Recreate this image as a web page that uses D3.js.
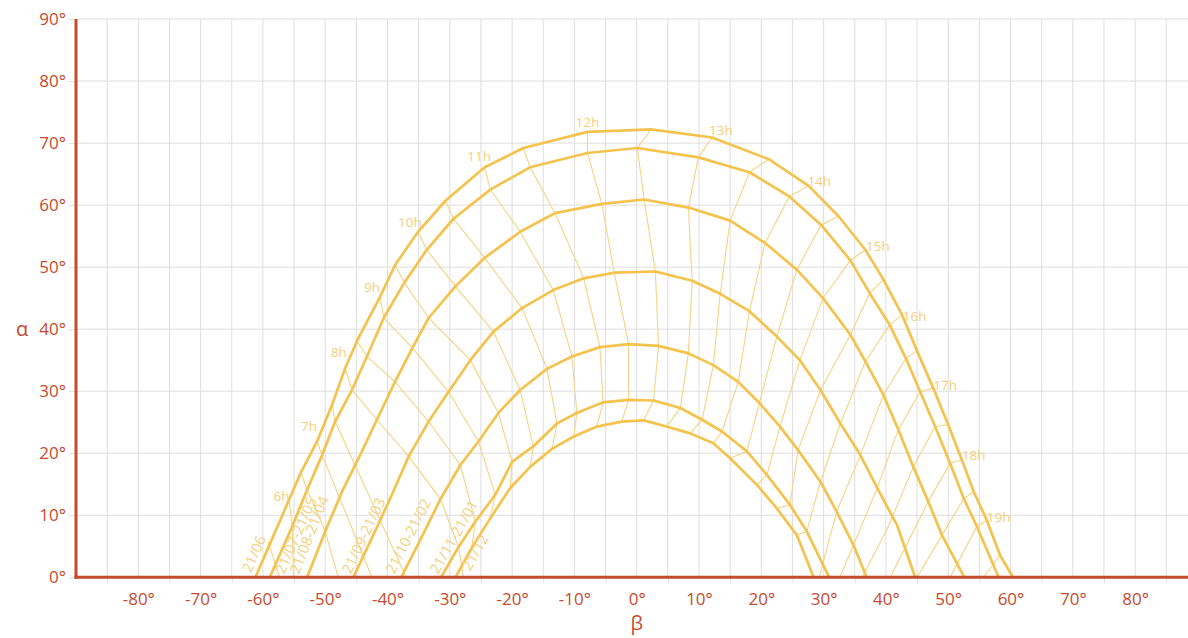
<!DOCTYPE html>
<html>
<head>
<meta charset="utf-8">
<script src="https://cdn.jsdelivr.net/npm/d3@7"></script>
<style>
  body { margin: 0; background: #fff; }
  svg { display: block; }
  text { font-family: "Open Sans", sans-serif; }
</style>
</head>
<body>
<svg width="1188" height="638"></svg>
<script>
// Day curves: [beta, alpha] in degrees
var c0621 = [[-61.2,0],[-55.8,12.5],[-53.9,16.9],[-51.3,21.9],[-48.9,27.8],[-46.8,33.7],[-44.9,38.1],[-41.2,45.2],[-38.8,50.3],[-35.1,55.7],[-30.7,60.7],[-24.4,66.1],[-18.2,69.2],[-7.9,71.8],[2.3,72.2],[12.1,70.9],[21.2,67.4],[27.6,63.1],[32.4,58.2],[36.7,52.8],[39.6,48.0],[42.6,42.3],[45.0,36.5],[47.6,30.5],[50.0,24.6],[52.2,18.9],[54.1,13.8],[56.2,9.2],[58.3,3.6],[60.4,0]];
var c0521 = [[-58.9,0],[-55.3,8.2],[-52.9,14.1],[-50.5,19.7],[-48.4,25.1],[-45.7,30.2],[-43.3,35.6],[-40.6,41.8],[-37.3,47.5],[-33.7,52.8],[-29.4,57.8],[-23.5,62.5],[-17.1,66.1],[-7.9,68.4],[0.1,69.2],[9.9,67.7],[18.1,65.3],[24.5,61.4],[29.6,56.8],[34.3,51.1],[37.4,45.8],[40.6,40.7],[43.2,35.3],[45.5,29.9],[47.9,24.3],[50.3,18.4],[52.5,12.7],[54.6,8.2],[58.1,0]];
var c0421 = [[-52.9,0],[-50.0,7.4],[-47.3,13.8],[-44.4,19.7],[-41.7,25.4],[-38.8,31.5],[-36.0,37.0],[-33.4,41.8],[-29.1,46.9],[-24.4,51.5],[-18.7,55.7],[-13.1,58.7],[-5.6,60.2],[1.2,60.9],[8.3,59.6],[15.0,57.5],[20.6,53.9],[25.7,49.6],[29.9,45.0],[34.3,39.1],[36.7,34.8],[39.6,29.4],[42.0,23.8],[44.4,17.8],[46.8,12.2],[49.0,6.8],[52.6,0]];
var c0321 = [[-45.5,0],[-42.0,7.4],[-39.3,13.3],[-36.6,19.5],[-33.4,25.1],[-30.2,29.9],[-26.7,35.0],[-23.0,39.6],[-18.4,43.4],[-13.4,46.3],[-8.5,48.2],[-3.6,49.1],[3.0,49.3],[8.9,47.8],[13.4,45.7],[18.1,42.9],[22.5,38.8],[26.2,35.0],[29.5,30.2],[32.7,24.8],[35.9,19.7],[38.6,14.4],[41.8,8.4],[44.7,0]];
var c0221 = [[-37.8,0],[-34.5,6.5],[-31.5,12.6],[-28.3,18.1],[-25.4,21.9],[-22.2,26.5],[-18.7,30.2],[-14.4,33.6],[-10.4,35.6],[-5.9,37.1],[-1.3,37.6],[3.5,37.3],[8.3,36.1],[12.3,34.2],[16.3,31.5],[19.7,28.1],[23.0,24.3],[25.9,20.5],[29.5,15.4],[32.1,10.6],[34.8,5.2],[36.9,0]];
var c0121 = [[-31.4,0],[-28.6,4.9],[-25.9,9.0],[-22.7,13.3],[-20.0,18.6],[-16.6,21.1],[-12.8,24.8],[-9.6,26.5],[-5.4,28.2],[-1.3,28.6],[2.7,28.5],[7.0,27.3],[10.5,25.4],[13.7,23.5],[17.7,20.3],[20.9,16.5],[24.6,11.7],[27.3,7.4],[30.9,0]];
var c1221 = [[-29.1,0],[-26.5,4.7],[-23.5,9.5],[-20.3,14.4],[-17.1,17.8],[-13.6,20.7],[-10.1,22.7],[-6.4,24.3],[-2.4,25.1],[1.1,25.3],[4.8,24.3],[8.6,23.2],[12.3,21.6],[15.0,19.2],[19.3,14.9],[22.5,11.1],[25.7,6.8],[28.4,0]];

var dayCurves = [c0621, c0521, c0421, c0321, c0221, c0121, c1221];
var dateLabels = ["21/06", "21/07-21/05", "21/08-21/04", "21/09-21/03", "21/10-21/02", "21/11-21/01", "21/12"];
var dateLabelPos = [[-61.9,0.6],[-56.6,0.4],[-54.2,0.4],[-45.9,0.4],[-38.9,0.4],[-31.9,0.4],[-26.7,0.9]];

// Hour lines (thin), [beta, alpha]
var hourLines = [
  [[-59.2,5.8],[-57.3,0]],
  [[-55.8,12.5],[-55.3,8.2],[-55.1,0]],
  [[-53.9,16.9],[-52.9,14.1],[-50.0,7.4],[-47.9,0]],
  [[-51.3,21.9],[-50.5,19.7],[-42.5,0]],
  [[-48.9,27.8],[-48.4,25.1],[-37.0,0]],
  [[-46.8,33.7],[-45.7,30.2],[-41.7,25.4],[-36.6,19.5],[-31.5,12.6],[-28.6,4.9],[-27.8,0]],
  [[-44.9,38.1],[-43.3,35.6],[-38.8,31.5],[-33.4,25.1],[-28.3,18.1],[-25.9,9.0],[-26.5,4.7]],
  [[-41.2,45.2],[-40.6,41.8],[-36.0,37.0],[-30.2,29.9],[-25.4,21.9],[-22.7,13.3],[-23.5,9.5]],
  [[-38.8,50.3],[-37.3,47.5],[-33.4,41.8],[-26.7,35.0],[-22.2,26.5],[-20.0,18.6],[-20.3,14.4]],
  [[-35.1,55.7],[-33.7,52.8],[-29.1,46.9],[-23.0,39.6],[-18.7,30.2],[-16.6,21.1],[-17.1,17.8]],
  [[-30.7,60.7],[-29.4,57.8],[-24.4,51.5],[-18.4,43.4],[-14.4,33.6],[-12.8,24.8],[-13.6,20.7]],
  [[-24.4,66.1],[-23.5,62.5],[-18.7,55.7],[-13.4,46.3],[-10.4,35.6],[-9.6,26.5],[-10.1,22.7]],
  [[-18.2,69.2],[-17.1,66.1],[-13.1,58.7],[-8.5,48.2],[-5.9,37.1],[-5.4,28.2],[-6.4,24.3]],
  [[-7.9,71.8],[-7.9,68.4],[-5.6,60.2],[-3.6,49.1],[-1.3,37.6],[-1.3,28.6],[-2.4,25.1]],
  [[2.3,72.2],[0.1,69.2],[1.2,60.9],[3.0,49.3],[3.5,37.3],[2.7,28.5],[1.1,25.3]],
  [[12.1,70.9],[9.9,67.7],[8.3,59.6],[8.9,47.8],[8.3,36.1],[7.0,27.3],[4.8,24.3]],
  [[21.2,67.4],[18.1,65.3],[15.0,57.5],[13.4,45.7],[12.3,34.2],[10.5,25.4],[8.6,23.2]],
  [[27.6,63.1],[24.5,61.4],[20.6,53.9],[18.1,42.9],[16.3,31.5],[13.7,23.5],[12.3,21.6]],
  [[32.4,58.2],[29.6,56.8],[25.7,49.6],[22.5,38.8],[19.7,28.1],[17.7,20.3],[15.0,19.2]],
  [[36.7,52.8],[34.3,51.1],[29.9,45.0],[26.2,35.0],[23.0,24.3],[20.9,16.5],[19.3,14.9]],
  [[39.6,48.0],[37.4,45.8],[34.3,39.1],[29.5,30.2],[25.9,20.5],[24.6,11.7],[22.5,11.1]],
  [[42.6,42.3],[40.6,40.7],[36.7,34.8],[32.7,24.8],[29.5,15.4],[27.3,7.4],[25.7,6.8]],
  [[45.0,36.5],[43.2,35.3],[39.6,29.4],[35.9,19.7],[32.1,10.6],[29.3,0]],
  [[47.6,30.5],[45.5,29.9],[42.0,23.8],[38.6,14.4],[34.8,5.2],[32.6,0]],
  [[50.0,24.6],[47.9,24.3],[44.4,17.8],[40.3,8.0],[36.2,0]],
  [[52.2,18.9],[50.3,18.4],[46.8,12.2],[40.7,0]],
  [[54.1,13.8],[52.5,12.7],[49.0,6.8],[45.0,0]],
  [[56.2,9.2],[54.6,8.2],[50.3,0]],
  [[58.3,3.6],[55.7,0]]
];

var hourLabels = ["6h","7h","8h","9h","10h","11h","12h","13h","14h","15h","16h","17h","18h","19h"];
var hourLabelPos = [[-57.0,13.0],[-52.6,24.4],[-47.8,36.3],[-42.5,46.7],[-36.4,57.2],[-25.3,67.8],[-7.9,73.3],[13.5,72.1],[29.3,63.8],[38.7,53.4],[44.6,42.0],[49.5,31.0],[54.1,19.6],[58.1,9.7]];

var xLabels = [-80,-70,-60,-50,-40,-30,-20,-10,0,10,20,30,40,50,60,70,80];
var yLabels = [0,10,20,30,40,50,60,70,80,90];

var red = "#c64a2d", grid = "#dedede", thick = "#f3c34e", thin = "#f6d385", soft = "#f4cf7c";

var svg = d3.select("svg");
var x = d3.scaleLinear().domain([-90, 90]).range([76, 1197.4]);
var y = d3.scaleLinear().domain([0, 90]).range([577.3, 19]);

// Grid
svg.append("g").selectAll("line").data(d3.range(-85, 90, 5)).enter().append("line")
    .attr("x1", function(d) { return x(d); }).attr("x2", function(d) { return x(d); })
    .attr("y1", y(90)).attr("y2", y(0))
    .attr("stroke", grid).attr("stroke-width", 1);
svg.append("g").selectAll("line").data(d3.range(10, 91, 10)).enter().append("line")
    .attr("x1", x(-90)).attr("x2", 1188)
    .attr("y1", function(d) { return y(d); }).attr("y2", function(d) { return y(d); })
    .attr("stroke", grid).attr("stroke-width", 1);

var line = d3.line().x(function(d) { return x(d[0]); }).y(function(d) { return y(d[1]); });

// Hour lines
svg.append("g").selectAll("path").data(hourLines).enter().append("path")
    .attr("d", line).attr("fill", "none")
    .attr("stroke", thin).attr("stroke-width", 1.1);

// Day curves
svg.append("g").selectAll("path").data(dayCurves).enter().append("path")
    .attr("d", line).attr("fill", "none")
    .attr("stroke", thick).attr("stroke-width", 2.7).attr("stroke-linejoin", "round");

// Hour labels
svg.append("g").selectAll("text").data(hourLabels).enter().append("text")
    .attr("x", function(d, i) { return x(hourLabelPos[i][0]); })
    .attr("y", function(d, i) { return y(hourLabelPos[i][1]); })
    .attr("dy", "0.35em").attr("text-anchor", "middle")
    .attr("font-size", 13.5).attr("fill", soft)
    .text(function(d) { return d; });

// Date labels, rotated along the first segment of their curve
svg.append("g").selectAll("text").data(dateLabels).enter().append("text")
    .attr("transform", function(d, i) {
        var c = dayCurves[i];
        var a = Math.atan2(y(c[1][1]) - y(c[0][1]), x(c[1][0]) - x(c[0][0])) * 180 / Math.PI;
        return "translate(" + x(dateLabelPos[i][0]) + "," + y(dateLabelPos[i][1]) + ") rotate(" + a + ")";
    })
    .attr("font-size", 14.5).attr("fill", soft)
    .text(function(d) { return d; });

// Axes
var xAxisG = svg.append("g").attr("transform", "translate(0," + y(0) + ")");
xAxisG.append("g").call(d3.axisBottom(x).tickValues(d3.range(-85, 90, 10)).tickSize(6).tickFormat(""))
    .call(function(g) { g.select(".domain").remove(); g.selectAll("line").attr("stroke", grid); });
xAxisG.append("g").call(d3.axisBottom(x).tickValues(xLabels).tickSize(0).tickPadding(16)
        .tickFormat(function(d) { return d + "°"; }))
    .call(function(g) {
        g.select(".domain").remove();
        g.selectAll("text").attr("fill", red).attr("font-size", 17).attr("font-family", "Open Sans, sans-serif");
    });

svg.append("g").attr("transform", "translate(" + x(-90) + ",0)")
    .call(d3.axisLeft(y).tickValues(yLabels).tickSize(7).tickPadding(3)
        .tickFormat(function(d) { return d + "°"; }))
    .call(function(g) {
        g.select(".domain").remove();
        g.selectAll("line").attr("stroke", grid);
        g.selectAll("text").attr("fill", red).attr("font-size", 17).attr("font-family", "Open Sans, sans-serif");
    });

svg.append("line").attr("x1", x(-90)).attr("x2", x(-90)).attr("y1", y(90)).attr("y2", y(0) + 1.5)
    .attr("stroke", red).attr("stroke-width", 3);
svg.append("line").attr("x1", x(-90) - 1.5).attr("x2", 1188).attr("y1", y(0)).attr("y2", y(0))
    .attr("stroke", red).attr("stroke-width", 3);

svg.append("text").attr("x", 22).attr("y", y(40)).attr("dy", "0.35em").attr("text-anchor", "middle")
    .attr("font-size", 20).attr("fill", red).text("α");
svg.append("text").attr("x", x(0)).attr("y", 623).attr("dy", "0.35em").attr("text-anchor", "middle")
    .attr("font-size", 20).attr("fill", red).text("β");
</script>
</body>
</html>
